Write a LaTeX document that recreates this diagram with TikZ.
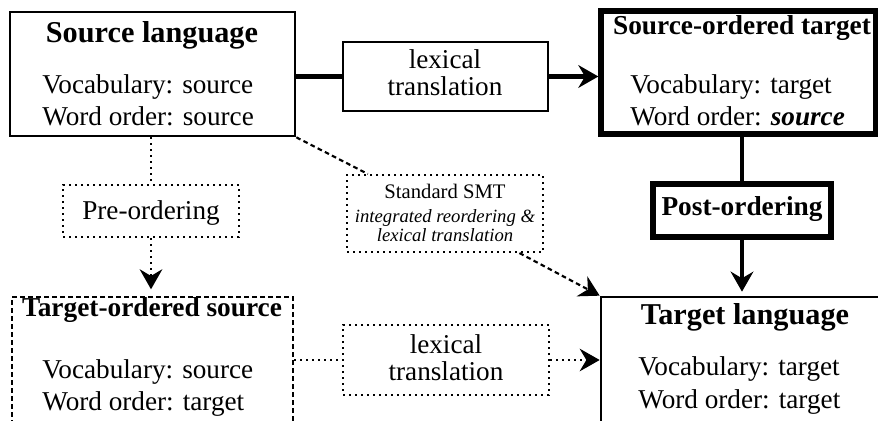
\documentclass[tikz,border=0pt]{standalone}
\usepackage{fontspec}
\setmainfont{Liberation Serif}
\usetikzlibrary{arrows.meta,fit,positioning}

\newcommand{\bodyfont}{\fontsize{20.4}{24.5}\selectfont}
\newcommand{\bigtitle}{\fontsize{22.7}{27}\selectfont\bfseries}
\newcommand{\smalltitle}{\fontsize{20.5}{24.5}\selectfont\bfseries}

\begin{document}
\begin{tikzpicture}[x=0.75pt,y=-0.75pt,
  box/.style={draw, line width=2pt, inner sep=0pt},
  heavybox/.style={draw, line width=4pt, inner sep=0pt},
  dotbox/.style={draw, line width=1.6pt, dash pattern=on 1.5pt off 3pt, inner sep=0pt, fill=white},
  dashbox/.style={draw, line width=1.6pt, dash pattern=on 3.5pt off 2.5pt, inner sep=0pt},
  txt/.style={font=\bodyfont, inner sep=0pt, anchor=base west},
  ctxt/.style={font=\bodyfont, inner sep=0pt, anchor=base},
  heavyline/.style={line width=3.4pt},
  dotline/.style={line width=1.6pt, dash pattern=on 1.5pt off 3pt},
  dashline/.style={line width=1.6pt, dash pattern=on 3.5pt off 2.5pt},
  tip/.style={-{Stealth[length=15pt, width=17pt, inset=5pt]}}]
\useasboundingbox (0,0) rectangle (878,421);

% boxes
\node[box, fit={(10,12) (295,136)}] (src) {};
\node[heavybox, fit={(601,11) (876,134)}] (sot) {};
\node[box, fit={(343,42) (548,111)}] (lex) {};
\node[heavybox, fit={(653,184) (831,237)}] (post) {};
\node[dotbox, fit={(63,185) (239,237)}] (pre) {};
\node[dotbox, fit={(347,175) (543,252)}] (smt) {};
\node[dashbox, fit={(12,297) (293,460)}] (tos) {};
\node[dotbox, fit={(343,325) (549,395)}] (lex2) {};
\node[box, fit={(601,297) (889,460)}] (tl) {};

% texts
\node[ctxt, font=\bigtitle] (srctitle) at (152,42) {Source language};
\node[txt] (srcvoc) at (42,93) {Vocabulary: source};
\node[txt] (srcord) at (42,125) {Word order: source};

\node[ctxt, font=\smalltitle] (sottitle) at (742,34) {Source-ordered target};
\node[txt] (sotvoc) at (630,93) {Vocabulary: target};
\node[txt] (sotord) at (630,125) {Word order: \textbf{\textit{source}}};

\node[ctxt] (lexa) at (445,68) {lexical};
\node[ctxt] (lexb) at (445,95) {translation};

\node[ctxt, font=\smalltitle] (posttxt) at (742,215) {Post-ordering};
\node[ctxt] (pretxt) at (151,219) {Pre-ordering};

\node[ctxt, font=\fontsize{15.5}{18}\selectfont] (smta) at (445,198) {Standard SMT};
\node[ctxt, font=\fontsize{14}{17}\selectfont\itshape] (smtb) at (445,222) {integrated reordering \&};
\node[ctxt, font=\fontsize{14}{17}\selectfont\itshape] (smtc) at (445,241) {lexical translation};

\node[ctxt, font=\smalltitle] (tostitle) at (152,316) {Target-ordered source};
\node[txt] (tosvoc) at (42,378) {Vocabulary: source};
\node[txt] (tosord) at (42,410) {Word order: target};

\node[ctxt] (lex2a) at (446,353) {lexical};
\node[ctxt] (lex2b) at (446,380) {translation};

\node[ctxt, font=\bigtitle] (tltitle) at (745,324) {Target language};
\node[txt] (tlvoc) at (638,375) {Vocabulary: target};
\node[txt] (tlord) at (638,408) {Word order: target};

% connectors
\draw[heavyline] (src.east |- lex.west) -- (lex.west);
\draw[heavyline, tip] (lex.east) -- (lex.east -| sot.west);
\draw[heavyline] (post.north |- sot.south) -- (post.north);
\draw[heavyline, tip, shorten >=3pt] (post.south) -- (post.south |- tl.north);
\draw[dotline] (pre.north |- src.south) -- (pre.north);
\draw[dotline, tip, shorten >=5pt] (pre.south) -- (pre.south |- tos.north);
\draw[dotline] (tos.east |- lex2.west) -- (lex2.west);
\draw[dotline, tip] (lex2.east) -- (lex2.east -| tl.west);
\draw[dashline] (src.south east) -- (smt);
\draw[dashline, tip] (smt) -- (tl.north west);
\end{tikzpicture}
\end{document}
